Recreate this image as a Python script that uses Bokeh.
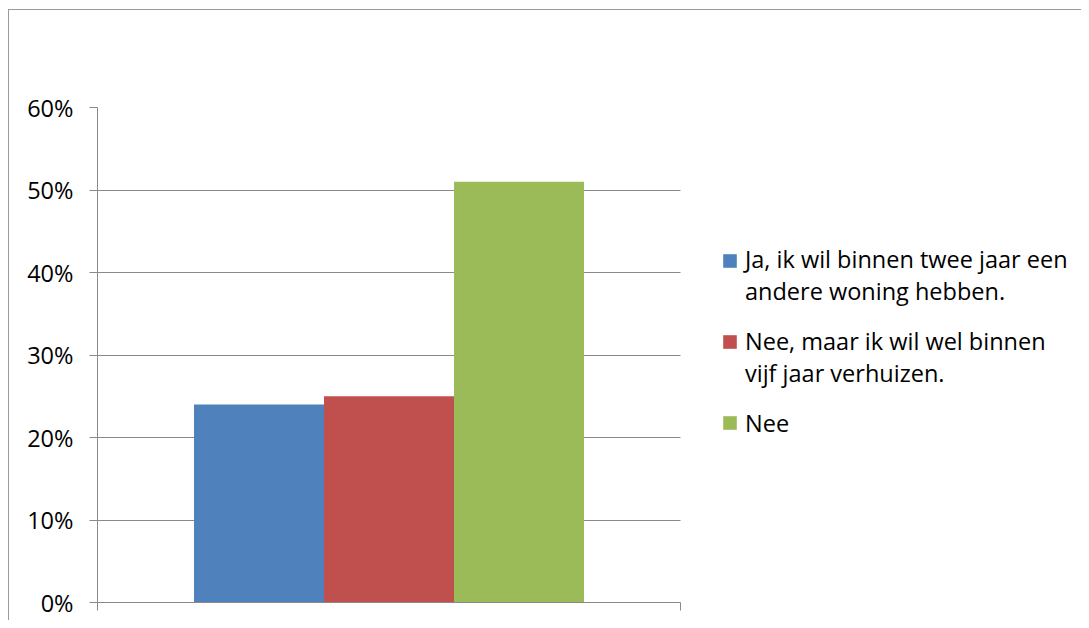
from bokeh.plotting import figure
from bokeh.models import (Range1d, FixedTicker, NumeralTickFormatter, Legend,
                          LegendItem, LinearAxis, InlineStyleSheet, BoxAnnotation)
from bokeh.embed import file_html
from bokeh.resources import INLINE

# ---- data ----
series_labels = [
    "Ja, ik wil binnen twee jaar een\nandere woning hebben.",
    "Nee, maar ik wil wel binnen\nvijf jaar verhuizen.",
    "Nee",
]
series_values = [0.24, 0.25, 0.51]
series_colors = ["#4F81BD", "#C0504D", "#9BBB59"]
y_ticks = [0.0, 0.1, 0.2, 0.3, 0.4, 0.5, 0.6]

FONT = "Open Sans"
FS = "23.5px"
GRID = "#898989"
PLOT_W = 583          # width of the bar area (category span) in px
FW, FH = 984, 495     # frame also covers the legend area to the right

p = figure(
    frame_width=FW, frame_height=FH,
    min_border_left=97, min_border_top=107, min_border_bottom=18, min_border_right=0,
    x_range=Range1d(0, FW / PLOT_W), y_range=Range1d(0, 0.6),
    output_backend="svg", toolbar_location=None, x_axis_location=None,
    y_axis_location=None,
)
p.outline_line_color = None
p.background_fill_color = "white"
p.border_fill_color = "white"

# outer chart border (its right and bottom sides lie outside the window)
p.stylesheets = [InlineStyleSheet(css=(
    ":host::after{content:'';position:absolute;left:8px;top:9px;right:0;bottom:0;"
    "border-left:1.5px solid #9a9a9a;border-top:1.5px solid #9a9a9a;"
    "pointer-events:none;z-index:10;}"
))]

# bars: one category spanning x in [0, 1], three series dodged around its centre
bar_w = 130 / PLOT_W
n = len(series_values)
renderers = []
for i, (lab, val, col) in enumerate(zip(series_labels, series_values, series_colors)):
    xc = 0.5 + (i - (n - 1) / 2) * bar_w
    r = p.vbar(x=[xc], top=[val], bottom=0, width=bar_w, fill_color=col, line_color=None)
    renderers.append((lab, r))

# y axis
yax = LinearAxis(ticker=FixedTicker(ticks=y_ticks), formatter=NumeralTickFormatter(format="0%"))
yax.axis_line_color = GRID
yax.major_tick_line_color = GRID
yax.major_tick_out = 8
yax.major_tick_in = 0
yax.minor_tick_line_color = None
yax.major_label_text_font = FONT
yax.major_label_text_font_size = FS
yax.major_label_text_color = "black"
yax.major_label_standoff = 16
p.add_layout(yax, "left")

# x axis (baseline with ticks on the category boundaries, no labels)
xax = LinearAxis(ticker=FixedTicker(ticks=[0, 1]), bounds=(0, 1))
xax.axis_line_color = GRID
xax.major_tick_line_color = GRID
xax.major_tick_out = 8
xax.major_tick_in = 0
xax.minor_tick_line_color = None
xax.major_label_overrides = {0: "", 1: ""}
xax.major_label_standoff = 0
p.add_layout(xax, "below")

p.xgrid.visible = False
p.ygrid.ticker = FixedTicker(ticks=y_ticks)
p.ygrid.grid_line_color = GRID

# hide gridlines to the right of the plot area (legend area)
p.add_layout(BoxAnnotation(left=1, fill_color="white", fill_alpha=1,
                           line_color=None, level="underlay"))

# legend texts (invisible stand-in glyph so the swatch can sit on the first line)
dummy = p.vbar(x=[], top=[], width=0.1, fill_alpha=0, line_alpha=0)
legend_txt = Legend(items=[LegendItem(label=l, renderers=[dummy]) for l, _ in renderers])
legend_txt.location = (625, 163)
legend_txt.margin = 0
legend_txt.padding = 0
legend_txt.border_line_color = None
legend_txt.background_fill_alpha = 0
legend_txt.label_text_font = FONT
legend_txt.label_text_font_size = FS
legend_txt.label_text_color = "black"
legend_txt.label_text_line_height = 1.3
legend_txt.glyph_width = 14
legend_txt.glyph_height = 14
legend_txt.label_standoff = 9
legend_txt.spacing = 18
p.add_layout(legend_txt, "center")

# legend swatches, aligned with the first line of each entry
legend_sw = Legend(items=[LegendItem(label=" ", renderers=[r]) for _, r in renderers])
legend_sw.location = (624.3, 164.5)
legend_sw.margin = 0
legend_sw.padding = 0
legend_sw.border_line_color = None
legend_sw.background_fill_alpha = 0
legend_sw.label_text_font = FONT
legend_sw.label_text_font_size = FS
legend_sw.label_height = 30
legend_sw.glyph_width = 17
legend_sw.glyph_height = 17
legend_sw.label_standoff = 0
legend_sw.spacing = 51
p.add_layout(legend_sw, "center")

open("out.html", "w").write(file_html(p, INLINE))
